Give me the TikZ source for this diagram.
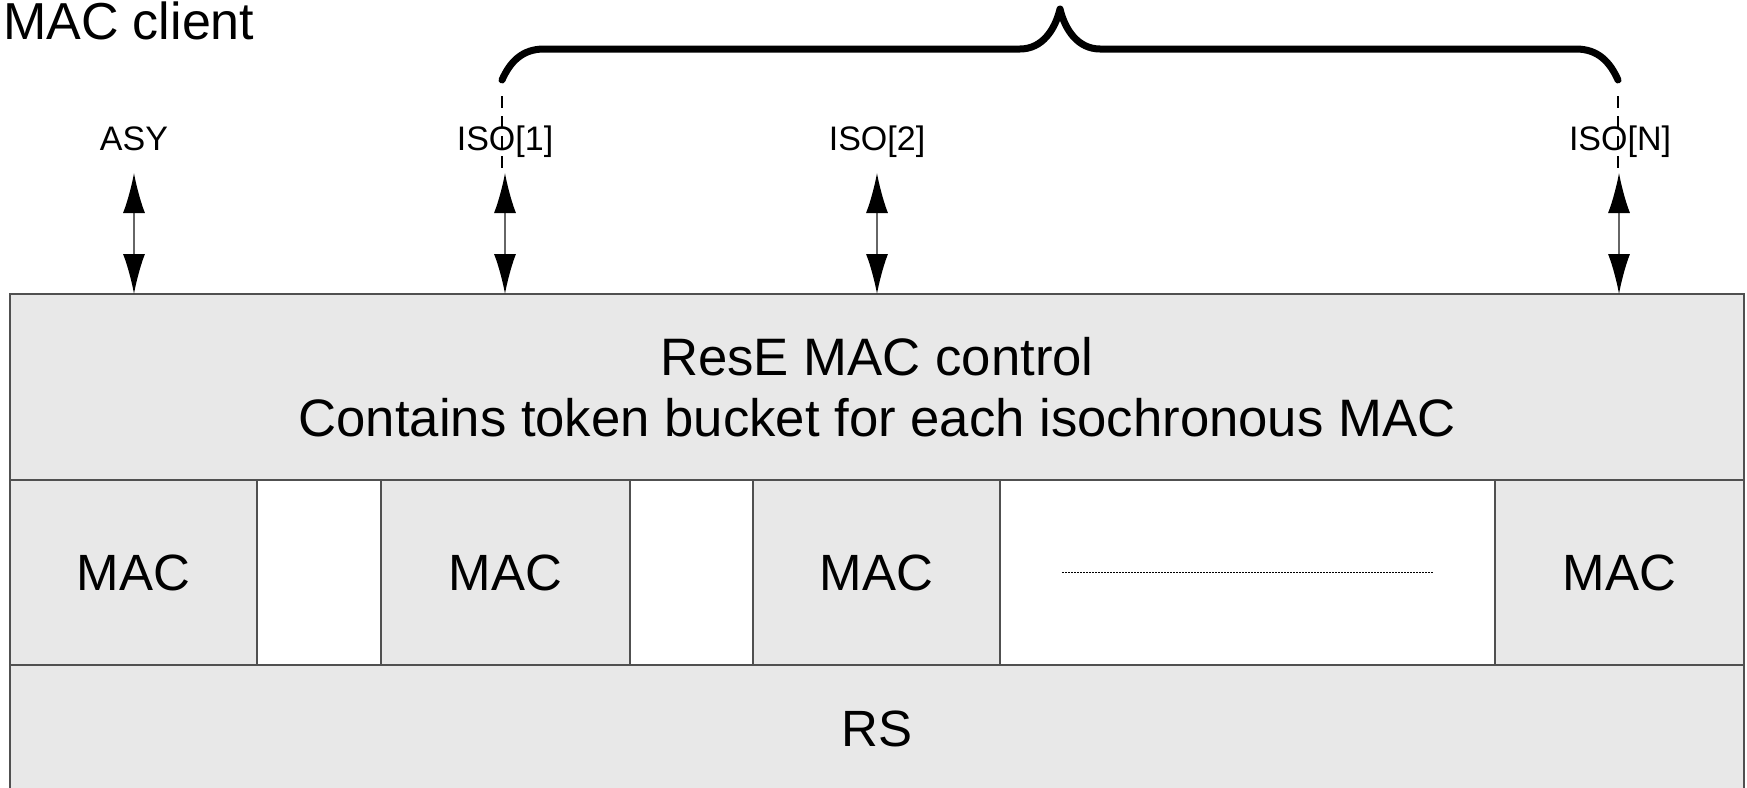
\documentclass[tikz,border=0pt]{standalone}
\usepackage{fontspec}
\setmainfont{Liberation Sans}
\usetikzlibrary{arrows.meta}
\definecolor{boxgray}{HTML}{E8E8E8}
\definecolor{edgegray}{HTML}{505050}

\begin{document}
\begin{tikzpicture}[
                x=1pt, y=-1pt,
                every node/.style={inner sep=0pt, outer sep=0pt},
                layer/.style={rectangle,draw=edgegray,line width=1.2pt,fill=boxgray,align=center,font=\fontsize{52.7}{61}\selectfont},
                macbox/.style={layer,minimum width=247pt,minimum height=185pt,font=\fontsize{51}{60}\selectfont},
                gapbox/.style={rectangle,draw=edgegray,line width=1.2pt,fill=white,minimum height=185pt},
                port/.style={anchor=base,font=\fontsize{34}{40}\selectfont},
                link/.style={draw=black!60,line width=1.5pt,{Latex[length=40pt,width=22pt,color=black]}-{Latex[length=40pt,width=22pt,color=black]}},
                guide/.style={line width=1.5pt,dash pattern=on 12pt off 8pt,shorten <=16pt},
                brace/.style={line width=7pt,line cap=round,line join=round},
            ]
            \useasboundingbox (0,0) rectangle (1747,787);

            % Define nodes
            \node[font=\fontsize{52}{60}\selectfont,anchor=base west] (client) at (3,39) {MAC client};
            \node[layer,minimum width=1734pt,minimum height=186pt] (ctrl) at (877,387) {ResE MAC control\\Contains token bucket for each isochronous MAC};
            \node[macbox] (mac1) at (133.5,572.5) {MAC};
            \node[gapbox,minimum width=124pt] (gap1) at (319,572.5) {};
            \node[macbox,minimum width=249pt] (mac2) at (505.5,572.5) {MAC};
            \node[gapbox,minimum width=123pt] (gap2) at (691.5,572.5) {};
            \node[macbox] (mac3) at (876.5,572.5) {MAC};
            \node[gapbox,minimum width=495pt] (gap3) at (1247.5,572.5) {};
            \node[macbox,minimum width=249pt] (macN) at (1619.5,572.5) {MAC};
            \node[layer,minimum width=1734pt,minimum height=127pt,font=\fontsize{51}{60}\selectfont] (rs) at (877,728.5) {RS};

            % Port labels
            \node[port] (asy) at (134,150) {ASY};
            \node[port] (iso1) at (505,150) {ISO[1]};
            \node[port] (iso2) at (877,150) {ISO[2]};
            \node[port] (isoN) at (1620,150) {ISO[N]};
            \coordinate (asyA) at (134,173);
            \coordinate (iso1A) at (505,173);
            \coordinate (iso2A) at (877,173);
            \coordinate (isoNA) at (1619,173);

            % Draw connections
            \draw[link] (asyA) -- (asyA |- ctrl.north);
            \draw[link] (iso1A) -- (iso1A |- ctrl.north);
            \draw[link] (iso2A) -- (iso2A |- ctrl.north);
            \draw[link] (isoNA) -- (isoNA |- ctrl.north);

            % Brace over the isochronous ports
            \coordinate (bl) at (502,80);
            \coordinate (br) at (1618,80);
            \draw[brace] (bl) .. controls (510,62) and (522,49) .. (544,49) -- (1020,49)
                .. controls (1042,49) and (1055,30) .. (1060,9)
                .. controls (1065,30) and (1078,49) .. (1100,49) -- (1576,49)
                .. controls (1598,49) and (1610,62) .. (br);
            \draw[guide] (bl) -- (bl |- iso1A);
            \draw[guide] (br) -- (br |- isoNA);

            % Dots for the further MACs
            \draw[line width=1pt,dash pattern=on 2pt off 1pt] ([xshift=-185.5pt]gap3.center) -- ([xshift=185.5pt]gap3.center);

            \end{tikzpicture}
\end{document}
